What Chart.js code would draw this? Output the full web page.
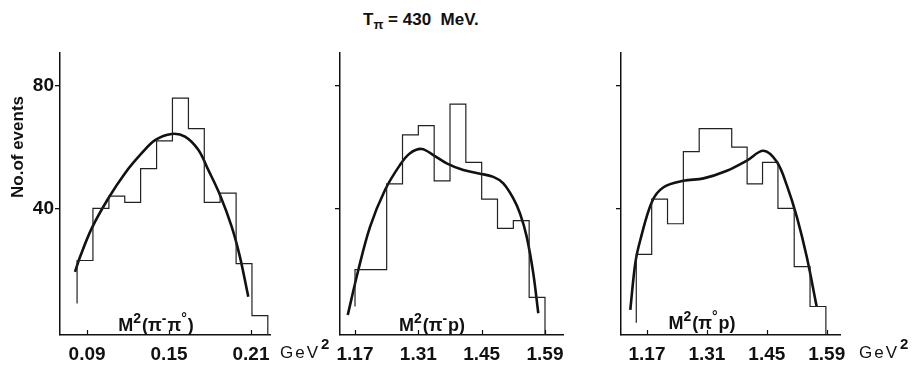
<!DOCTYPE html>
<html>
<head>
<meta charset="utf-8">
<script src="https://cdn.jsdelivr.net/npm/chart.js@4.4.0/dist/chart.umd.min.js"></script>
<style>
  body { margin: 0; background: #fff; width: 914px; height: 369px; position: relative; overflow: hidden;
         font-family: "Liberation Sans", Arial, sans-serif; color: #111; }
  canvas { position: absolute; top: 0; }
  #title { position: absolute; left: 363px; top: 11px; font-size: 17px; line-height: 17px; font-weight: bold; white-space: pre; }
  #title sub { font-size: 13px; vertical-align: baseline; position: relative; top: 4px; }
  .gev { position: absolute; font-size: 17px; line-height: 17px; letter-spacing: 2px; white-space: pre; }
  .gev sup { font-size: 15px; font-weight: bold; vertical-align: baseline; position: relative; top: -9px; margin-left: 1px; }
</style>
</head>
<body>
<div id="title">T<sub>π</sub> = 430  MeV.</div>
<canvas id="c1" width="300" height="369" style="left:0px"></canvas>
<canvas id="c2" width="300" height="369" style="left:300px"></canvas>
<canvas id="c3" width="314" height="369" style="left:600px"></canvas>
<div class="gev" style="left:280px;top:344px">GeV<sup>2</sup></div>
<div class="gev" style="left:859px;top:344px">GeV<sup>2</sup></div>
<script>
// shared y axis
const yTicks = [40, 80];
const yMin = -1.3;
const yMax = 90.7;

// panel 1 : M²(π⁻π°)
const edges1 = [0.0827, 0.0943, 0.1060, 0.1176, 0.1292, 0.1409, 0.1525, 0.1642, 0.1758, 0.1874, 0.1991, 0.2107, 0.2223];
const counts1 = [23, 40, 44, 42, 53, 62, 76, 66, 42, 45, 22, 5];
const start1 = 9;
const fitX1 = [0.0812, 0.0849, 0.0934, 0.1056, 0.1178, 0.1300, 0.1398, 0.1520, 0.1617, 0.1714, 0.1788, 0.1873, 0.1959, 0.2019, 0.2080];
const fitY1 = [19.3, 24.2, 33.5, 43.3, 51.5, 58.0, 62.3, 64.3, 63.4, 59.1, 52.5, 44.4, 34.0, 24.2, 11.2];
const xTicks1 = [0.09, 0.15, 0.21];

// panel 2 : M²(π⁻p)
const edges2 = [1.170, 1.205, 1.240, 1.275, 1.310, 1.345, 1.380, 1.415, 1.450, 1.485, 1.520, 1.555, 1.590];
const counts2 = [20, 20, 48, 64, 67, 49, 74, 55, 43, 33.5, 36, 11];
const start2 = 8;
const fitX2 = [1.1539, 1.1773, 1.2032, 1.2363, 1.2695, 1.2916, 1.3174, 1.3431, 1.3727, 1.4094, 1.4441, 1.4757, 1.4978, 1.5199, 1.5347, 1.5495, 1.5641, 1.5752];
const fitY2 = [5.2, 19.9, 34.0, 46.0, 54.2, 58.0, 59.4, 57.4, 54.7, 52.5, 51.4, 50.3, 48.2, 43.3, 38.4, 30.8, 18.8, 5.8];
const xTicks2 = [1.17, 1.31, 1.45, 1.59];

// panel 3 : M²(π°p)
const edges3 = [1.145, 1.181, 1.218, 1.255, 1.292, 1.330, 1.368, 1.404, 1.440, 1.476, 1.514, 1.551, 1.588];
const counts3 = [25, 43, 35, 58.5, 66, 66, 60, 48, 55, 40, 21, 8];
const start3 = 2.7;
const fitX3 = [1.1310, 1.1427, 1.1544, 1.1817, 1.2087, 1.2554, 1.3021, 1.3567, 1.4033, 1.4421, 1.4733, 1.4966, 1.5200, 1.5433, 1.5666];
const fitY3 = [6.9, 22.1, 29.7, 42.2, 46.9, 49.0, 49.8, 52.3, 55.6, 58.8, 55.2, 47.6, 37.3, 24.2, 7.9];
const xTicks3 = [1.17, 1.31, 1.45, 1.59];

const INK = "#111";
const FONT = '"Liberation Sans", Arial, sans-serif';

// histogram outline: stepped line through the bin edges
function histPoints(edges, counts, start) {
  const pts = [{ x: edges[0], y: start }];
  counts.forEach((c, i) => pts.push({ x: edges[i], y: c }));
  pts.push({ x: edges[edges.length - 1], y: counts[counts.length - 1] });
  pts.push({ x: edges[edges.length - 1], y: yMin });
  return pts;
}

// draw "M^2(π^-π^°)" : a char after ^ is raised and smaller
function drawSup(ctx, text, cx, by, size) {
  const parts = [];
  for (let i = 0; i < text.length; i++) {
    if (text[i] === "^") { parts.push([text[i + 1], true]); i++; }
    else parts.push([text[i], false]);
  }
  const fontN = "bold " + size + "px " + FONT;
  const fontS = "bold " + Math.round(size * 0.75) + "px " + FONT;
  let w = 0;
  parts.forEach((p) => { ctx.font = p[1] ? fontS : fontN; w += ctx.measureText(p[0]).width + (p[1] ? 1 : 0); });
  let x = cx - w / 2;
  ctx.textAlign = "left";
  parts.forEach((p) => {
    ctx.font = p[1] ? fontS : fontN;
    ctx.fillText(p[0], x, p[1] ? by - size * 0.45 : by);
    x += ctx.measureText(p[0]).width + (p[1] ? 1 : 0);
  });
}

// labels inside panels, small inward ticks on x axis, y title
const decor = {
  id: "decor",
  afterDraw(chart, args, opts) {
    const { ctx, chartArea: a } = chart;
    const x = chart.scales.x;
    ctx.save();
    ctx.strokeStyle = INK;
    ctx.lineWidth = 1.2;
    x.ticks.forEach((t) => {
      const px = Math.round(x.getPixelForValue(t.value)) + 0.5;
      ctx.beginPath();
      ctx.moveTo(px, a.bottom);
      ctx.lineTo(px, a.bottom - 5);
      ctx.stroke();
    });
    ctx.fillStyle = INK;
    ctx.textBaseline = "alphabetic";
    drawSup(ctx, opts.label, opts.cx, opts.by, 18);
    if (opts.yTitle) {
      ctx.translate(18, 147);
      ctx.rotate(-Math.PI / 2);
      ctx.font = "bold 17px " + FONT;
      ctx.textAlign = "center";
      ctx.textBaseline = "middle";
      ctx.fillText(opts.yTitle, 0, 0);
    }
    ctx.restore();
  },
};

function makePanel(id, o) {
  return new Chart(document.getElementById(id), {
    type: "line",
    data: {
      datasets: [
        {
          data: histPoints(o.edges, o.counts, o.start),
          stepped: true,
          borderColor: "#222",
          borderWidth: 1.2,
          pointRadius: 0,
          fill: false,
        },
        {
          data: o.fitX.map((v, i) => ({ x: v, y: o.fitY[i] })),
          borderColor: INK,
          borderWidth: 2.6,
          pointRadius: 0,
          tension: 0.35,
          fill: false,
        },
      ],
    },
    options: {
      responsive: false,
      animation: false,
      devicePixelRatio: 1,
      layout: { padding: { top: 53, right: o.padRight, left: 0, bottom: 0 } },
      plugins: {
        legend: { display: false },
        tooltip: { enabled: false },
        decor: { label: o.label, cx: o.cx, by: o.by, yTitle: o.yTitle },
      },
      scales: {
        x: {
          type: "linear",
          min: o.xMin,
          max: o.xMax,
          afterBuildTicks: (s) => { s.ticks = o.xTicks.map((v) => ({ value: v })); },
          afterFit: (s) => { s.height = 34; },
          grid: { display: true, drawOnChartArea: false, drawTicks: false },
          border: { display: true, color: INK, width: 1.4 },
          ticks: {
            autoSkip: false,
            maxRotation: 0,
            padding: 8,
            color: INK,
            font: { family: FONT, size: 19, weight: "bold" },
            callback: (v) => v.toFixed(2),
          },
        },
        y: {
          min: yMin,
          max: yMax,
          afterBuildTicks: (s) => { s.ticks = yTicks.map((v) => ({ value: v })); },
          afterFit: (s) => { s.width = o.yWidth; },
          grid: { drawOnChartArea: false, drawTicks: true, tickLength: 5, color: INK, lineWidth: 1.3 },
          border: { display: true, color: INK, width: 1.5 },
          ticks: {
            display: o.showY,
            padding: 1,
            color: INK,
            font: { family: FONT, size: 19, weight: "bold" },
          },
        },
      },
    },
    plugins: [decor],
  });
}

// cx / by are in each canvas' own pixels
makePanel("c1", {
  edges: edges1, counts: counts1, start: start1, fitX: fitX1, fitY: fitY1, xTicks: xTicks1,
  xMin: 0.0702, xMax: 0.2239, yWidth: 60, padRight: 30, showY: true,
  label: "M^2(π^-π^°)", cx: 156, by: 331, yTitle: "No.of events",
});
makePanel("c2", {
  edges: edges2, counts: counts2, start: start2, fitX: fitX2, fitY: fitY2, xTicks: xTicks2,
  xMin: 1.1368, xMax: 1.6298, yWidth: 40, padRight: 37, showY: false,
  label: "M^2(π^-p)", cx: 132, by: 331,
});
makePanel("c3", {
  edges: edges3, counts: counts3, start: start3, fitX: fitX3, fitY: fitY3, xTicks: xTicks3,
  xMin: 1.1093, xMax: 1.6210, yWidth: 21, padRight: 74, showY: false,
  label: "M^2(π^°p)", cx: 102, by: 329,
});
</script>
</body>
</html>
